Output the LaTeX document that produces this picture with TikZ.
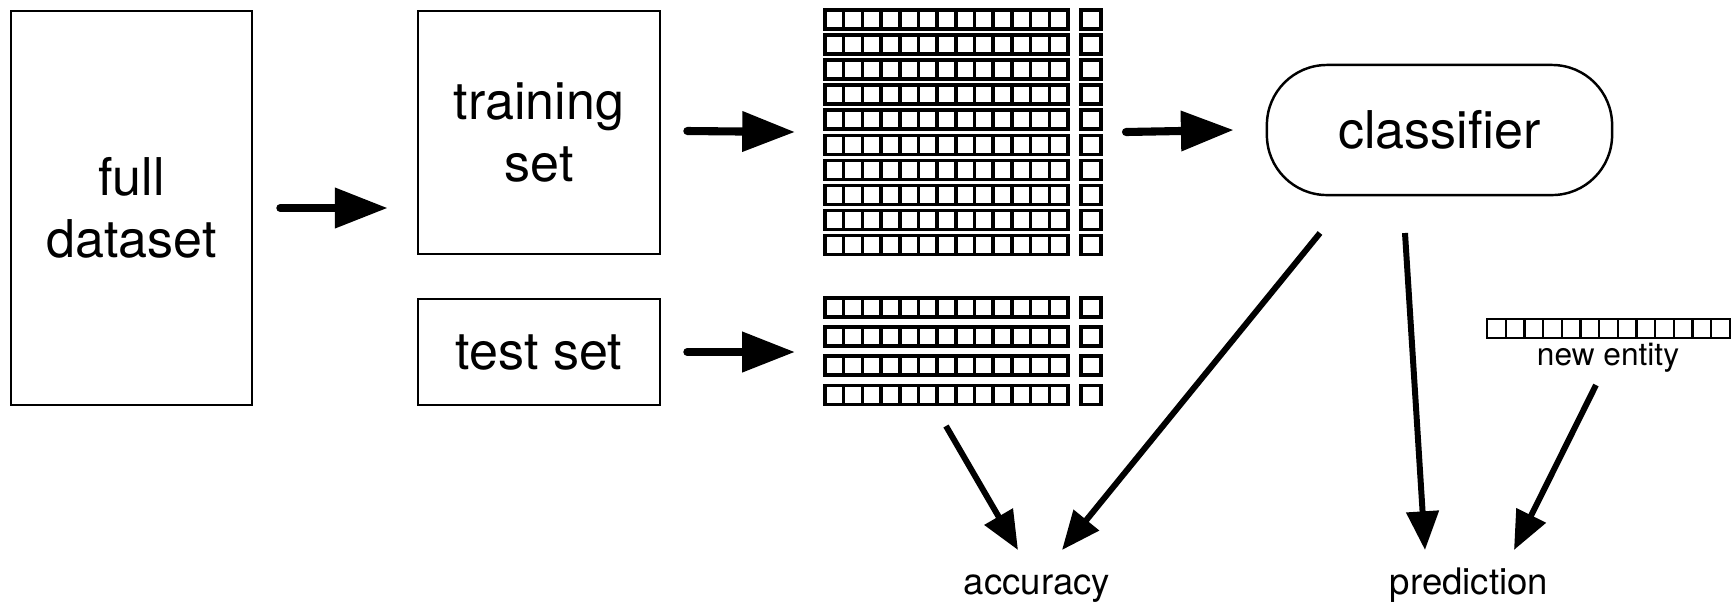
\documentclass[tikz,border=0pt]{standalone}
\usepackage{fontspec}
\setmainfont{TeX Gyre Heros}
\usetikzlibrary{arrows.meta}
% one row of 13 feature cells, top left corner at (#2,#3), line width #1
\newcommand{\datarow}[3]{%
  \foreach \c in {0,...,12} \draw[line width=#1] ({#2+18.69*\c},#3) rectangle ++(18.69,19);}
\begin{document}
\begin{tikzpicture}[x=0.01cm,y=-0.01cm,
  box/.style={draw,line width=0.7pt,align=center,inner sep=0pt,font=\fontsize{14.8}{17.8}\selectfont},
  rowline/.style={line width=1pt},
  flow/.style={line width=2.3pt,line cap=round,-{Triangle[length=15pt,width=11pt]}},
  link/.style={line width=1.7pt,-{Triangle[length=11pt,width=9pt]}},
  lbl/.style={anchor=base,inner sep=0pt,font=\fontsize{10.4}{12}\selectfont}]
\useasboundingbox (0,0) rectangle (1735,605);
% boxes
\node[box,minimum width=2.41cm,minimum height=3.94cm] (full) at (131.5,208) {full\\dataset};
\node[box,minimum width=2.42cm,minimum height=2.43cm] (train) at (539,132.5) {training\\set};
\node[box,minimum width=2.42cm,minimum height=1.06cm] (test) at (539,352) {test set};
\node[box,rounded corners=0.6cm,minimum width=3.45cm,minimum height=1.30cm] (clf) at (1439.5,130) {classifier};
% rows of data
\foreach \r in {0,...,9} {
  \datarow{1pt}{825}{10+25.05*\r}
  \draw[rowline] (1081,10+25.05*\r) rectangle ++(20,19);
}
\foreach \r in {0,...,3} {
  \datarow{1pt}{825}{298+29.1*\r}
  \draw[rowline] (1081,298+29.1*\r) rectangle ++(20,19);
}
\datarow{0.65pt}{1487}{319}
\coordinate (trainrows) at (825,132);
\coordinate (testrows) at (825,352);
\coordinate (testbottom) at (946,426);
\coordinate (newrow) at (1596,385);
\node[lbl,font=\fontsize{9}{11}\selectfont] (new) at (1608,365) {new entity};
\node[lbl] (acc) at (1037,594) {accuracy};
\node[lbl] (pred) at (1469,594) {prediction};
\coordinate (accL) at (1018,550);
\coordinate (accR) at (1062,550);
\coordinate (predL) at (1425,550);
\coordinate (predR) at (1514,550);
% arrows
\draw[flow] ([xshift=0.27cm]full.east) -- ([xshift=-0.29cm]full.east -| train.west);
\draw[flow] ([xshift=0.26cm,yshift=0.015cm]train.east) -- ([xshift=-0.30cm]trainrows);
\draw[flow] ([xshift=0.26cm]test.east) -- ([xshift=-0.30cm]testrows);
\draw[flow] (1126,132) -- ([xshift=-0.32cm]clf.west);
\draw[link] (testbottom) -- (accL);
\draw[link] (1320,233) -- (accR);
\draw[link] (1405,233) -- (predL);
\draw[link] (newrow) -- (predR);
\end{tikzpicture}
\end{document}
